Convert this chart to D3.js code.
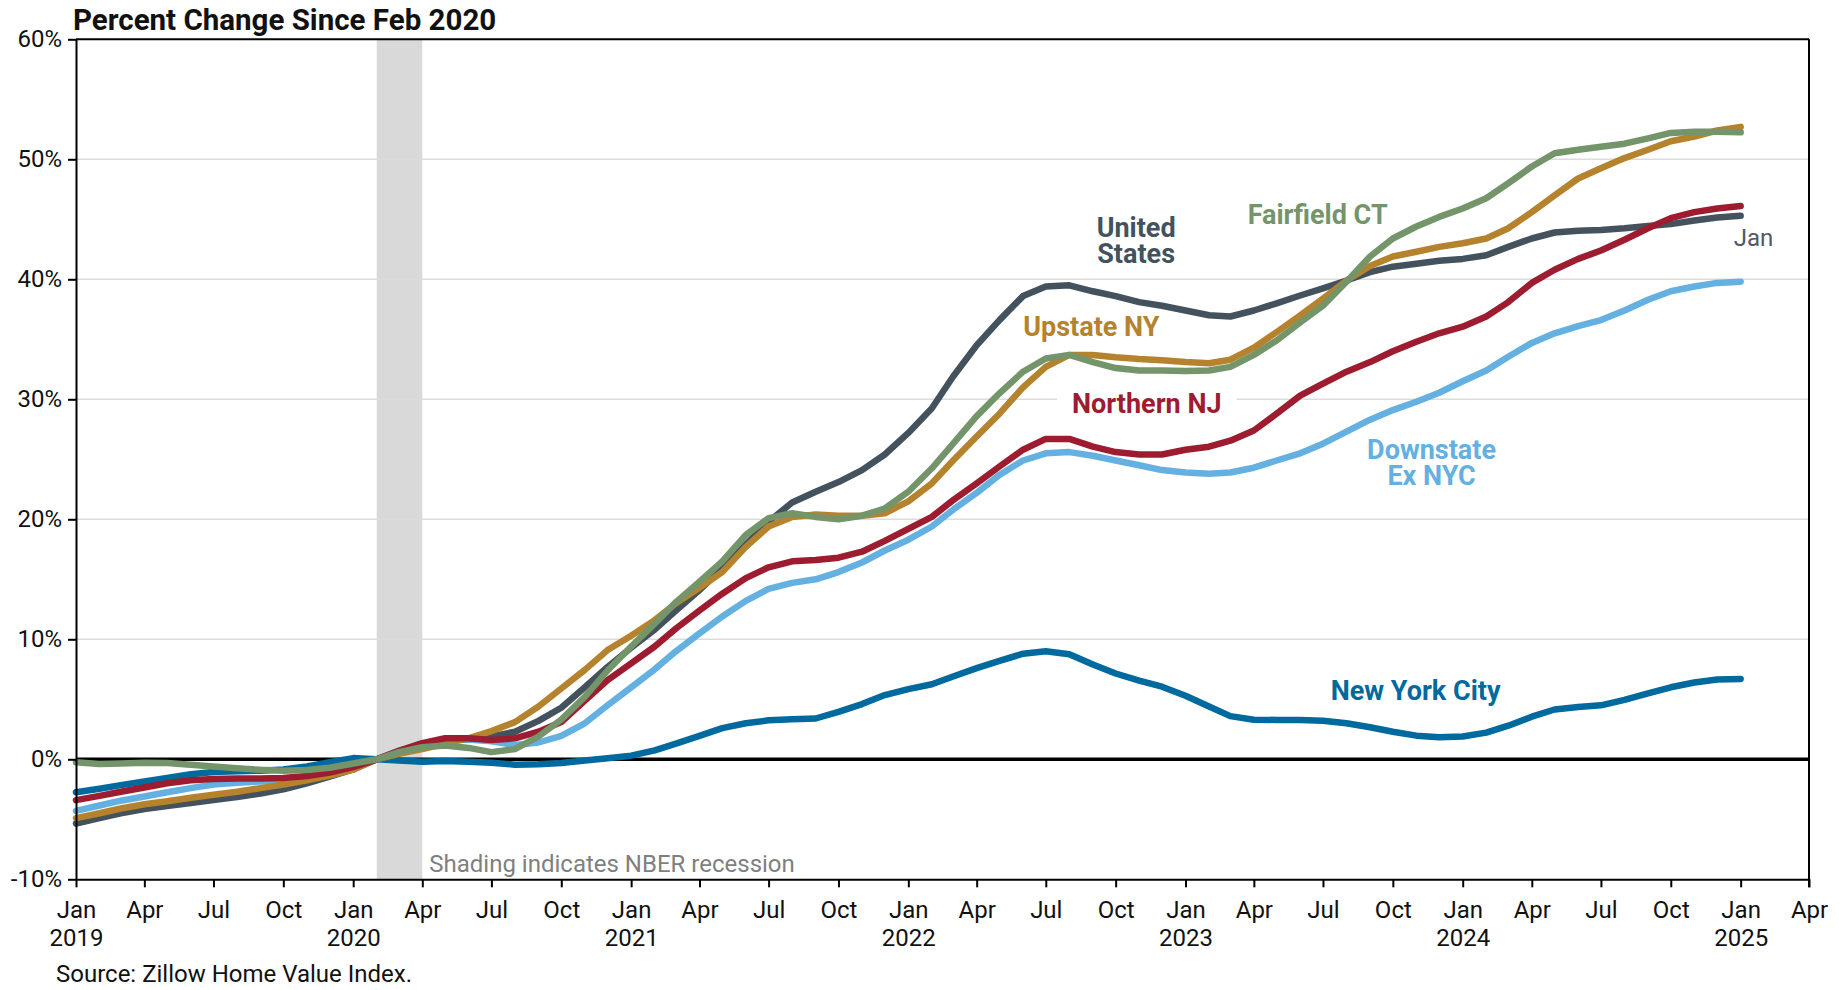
<!DOCTYPE html>
<html>
<head>
<meta charset="utf-8">
<script src="https://cdn.jsdelivr.net/npm/d3@7"></script>
<style>
  html, body { margin: 0; padding: 0; background: #fff; }
  svg { display: block; font-family: Roboto, "Noto Sans", sans-serif; }
</style>
</head>
<body>
<svg id="chart" width="1839" height="990"></svg>
<script>
// ---------------- DATA (percent change since Feb 2020, monthly Jan 2019 – Jan 2025) ----------------
const startMonth = "2019-01";
const endMonth = "2025-01";

const unitedStates = [
  -5.35, -4.9, -4.5, -4.15, -3.9, -3.65, -3.4, -3.15, -2.85, -2.5, -2.0, -1.45, -0.85,
  0, 0.6, 1.05, 1.5, 1.75, 1.9, 2.3, 3.2, 4.3, 6.0, 7.7, 9.3,
  10.8, 12.4, 14.1, 15.9, 17.9, 19.8, 21.4, 22.3, 23.1, 24.1, 25.4, 27.2,
  29.25, 31.9, 34.5, 36.6, 38.6, 39.4, 39.5, 39.0, 38.6, 38.1, 37.8, 37.4,
  37.0, 36.9, 37.4, 38.0, 38.65, 39.25, 39.9, 40.6, 41.05, 41.3, 41.55, 41.7,
  42.0, 42.7, 43.4, 43.9, 44.05, 44.1, 44.25, 44.45, 44.6, 44.9, 45.15, 45.3
];
const upstateNY = [
  -4.9, -4.5, -4.1, -3.75, -3.5, -3.2, -2.95, -2.7, -2.4, -2.1, -1.75, -1.35, -0.85,
  0, 0.45, 0.85, 1.3, 1.75, 2.35, 3.1, 4.4, 5.9, 7.45, 9.1, 10.3,
  11.6, 13.0, 14.3, 15.6, 17.7, 19.4, 20.2, 20.4, 20.3, 20.3, 20.5, 21.5,
  23.0, 24.9, 26.9, 28.8, 31.0, 32.7, 33.7, 33.7, 33.5, 33.35, 33.25, 33.1,
  33.0, 33.3, 34.3, 35.6, 37.0, 38.4, 39.9, 41.1, 41.9, 42.3, 42.7, 43.0,
  43.4, 44.25, 45.6, 47.0, 48.4, 49.25, 50.1, 50.8, 51.5, 51.9, 52.4, 52.7
];
const fairfieldCT = [
  -0.25, -0.4, -0.35, -0.28, -0.3, -0.45, -0.6, -0.75, -0.88, -0.95, -0.9, -0.7, -0.35,
  0, 0.6, 1.0, 1.15, 0.95, 0.6, 0.85, 1.9, 3.3, 5.2, 7.4, 9.4,
  11.3, 13.1, 14.8, 16.5, 18.7, 20.1, 20.5, 20.2, 20.0, 20.3, 20.9, 22.3,
  24.25, 26.3, 28.6, 30.5, 32.3, 33.4, 33.7, 33.1, 32.6, 32.4, 32.4, 32.35,
  32.4, 32.7, 33.7, 34.9, 36.4, 37.8, 39.8, 41.9, 43.4, 44.4, 45.2, 45.9,
  46.75, 48.0, 49.4, 50.5, 50.8, 51.05, 51.3, 51.75, 52.2, 52.3, 52.3, 52.25
];
const northernNJ = [
  -3.4, -3.05, -2.7, -2.35, -2.0, -1.75, -1.65, -1.6, -1.6, -1.55, -1.4, -1.1, -0.65,
  0, 0.7, 1.35, 1.75, 1.75, 1.6, 1.75, 2.3, 3.1, 4.9, 6.6, 8.0,
  9.4, 10.9, 12.4, 13.8, 15.1, 16.0, 16.5, 16.6, 16.8, 17.3, 18.2, 19.2,
  20.2, 21.6, 23.0, 24.4, 25.8, 26.7, 26.7, 26.05, 25.6, 25.4, 25.4, 25.8,
  26.05, 26.55, 27.4, 28.8, 30.3, 31.3, 32.3, 33.1, 34.0, 34.8, 35.5, 36.05,
  36.9, 38.1, 39.7, 40.8, 41.7, 42.4, 43.3, 44.25, 45.1, 45.6, 45.9, 46.1
];
const downstateExNYC = [
  -4.3, -3.85, -3.45, -3.1, -2.75, -2.4, -2.1, -1.95, -1.85, -1.8, -1.55, -1.15, -0.7,
  0, 0.7, 1.25, 1.6, 1.65, 1.5, 1.2, 1.4, 1.95, 3.0, 4.5, 6.0,
  7.5, 9.0, 10.5, 11.9, 13.2, 14.2, 14.7, 15.0, 15.6, 16.4, 17.4, 18.3,
  19.4, 20.8, 22.2, 23.7, 24.9, 25.5, 25.6, 25.3, 24.9, 24.5, 24.1, 23.9,
  23.8, 23.9, 24.3, 24.9, 25.5, 26.3, 27.3, 28.3, 29.1, 29.8, 30.55, 31.5,
  32.4, 33.55, 34.7, 35.5, 36.1, 36.6, 37.4, 38.3, 39.0, 39.4, 39.7, 39.8
];
const newYorkCity = [
  -2.75, -2.45, -2.15, -1.85, -1.55, -1.25, -1.05, -1.0, -0.95, -0.85, -0.6, -0.25, 0.1,
  0.0, -0.1, -0.2, -0.15, -0.2, -0.28, -0.45, -0.42, -0.3, -0.1, 0.08, 0.3,
  0.75, 1.3, 1.95, 2.6, 3.0, 3.25, 3.33, 3.4, 3.95, 4.6, 5.35, 5.85,
  6.25, 6.9, 7.6, 8.2, 8.8, 9.0, 8.75, 7.9, 7.15, 6.55, 6.05, 5.3,
  4.4, 3.6, 3.3, 3.28, 3.28, 3.22, 3.0, 2.67, 2.3, 1.97, 1.83, 1.9,
  2.22, 2.8, 3.55, 4.15, 4.35, 4.5, 4.95, 5.5, 6.0, 6.4, 6.65, 6.7
];

const seriesNames = ["New York City", "Downstate Ex NYC", "United States", "Upstate NY", "Northern NJ", "Fairfield CT"];
const seriesValues = [newYorkCity, downstateExNYC, unitedStates, upstateNY, northernNJ, fairfieldCT];

const yTickValues = [-10, 0, 10, 20, 30, 40, 50, 60];
const recession = ["2020-02", "2020-04"];
const axisStart = "2019-01";
const axisEnd = "2025-04";

const titleText = "Percent Change Since Feb 2020";
const sourceText = "Source: Zillow Home Value Index.";
const shadingText = "Shading indicates NBER recession";
const endLabelText = "Jan";

// ---------------- STYLE / LAYOUT ----------------
const colors = {
  "United States": "#44525e",
  "Upstate NY": "#b5832e",
  "Fairfield CT": "#74946a",
  "Northern NJ": "#9d1c2f",
  "Downstate Ex NYC": "#64b0e0",
  "New York City": "#006a9e"
};
// label placement: text lines, centre date on the x scale, baseline in % units
const labelLayout = {
  "United States":    { lines: ["United", "States"], date: "2022-10-28", y: 43.5, bg: false },
  "Fairfield CT":     { lines: ["Fairfield CT"], date: "2023-06-24", y: 44.6, bg: false },
  "Upstate NY":       { lines: ["Upstate NY"], date: "2022-08-30", y: 35.3, bg: false },
  "Northern NJ":      { lines: ["Northern NJ"], date: "2022-11-11", y: 28.9, bg: true },
  "Downstate Ex NYC": { lines: ["Downstate", "Ex NYC"], date: "2023-11-21", y: 25.0, bg: false },
  "New York City":    { lines: ["New York City"], date: "2023-10-31", y: 4.94, bg: false }
};

const W = 1839, H = 990;
const M = { left: 76, right: 1809, top: 39.3, bottom: 879.3 };

const parse = d3.utcParse("%Y-%m");
const parseDay = d3.utcParse("%Y-%m-%d");
const dates = d3.utcMonth.range(parse(startMonth), d3.utcMonth.offset(parse(endMonth), 1));

const x = d3.scaleUtc().domain([parse(axisStart), parse(axisEnd)]).range([M.left, M.right]);
const y = d3.scaleLinear().domain([-10, 60]).range([M.bottom, M.top]);

const svg = d3.select("#chart");
svg.append("rect").attr("width", W).attr("height", H).attr("fill", "#fff");

// recession shading
svg.append("rect")
  .attr("x", x(parse(recession[0])))
  .attr("y", M.top)
  .attr("width", x(parse(recession[1])) - x(parse(recession[0])))
  .attr("height", M.bottom - M.top)
  .attr("fill", "#d9d9d9");

// gridlines
svg.append("g").selectAll("line")
  .data(yTickValues.filter(v => v > 0 && v < 60))
  .join("line")
  .attr("x1", M.left).attr("x2", M.right)
  .attr("y1", d => y(d)).attr("y2", d => y(d))
  .attr("stroke", "#dcdcdc").attr("stroke-width", 1.5);

// label backgrounds layer (hides gridlines only)
const bgLayer = svg.append("g");

// zero line
svg.append("line")
  .attr("x1", M.left).attr("x2", M.right)
  .attr("y1", y(0)).attr("y2", y(0))
  .attr("stroke", "#000").attr("stroke-width", 3.5);

// series lines
const line = d3.line().x((d, i) => x(dates[i])).y(d => y(d));
svg.append("g").selectAll("path")
  .data(seriesNames.map((n, k) => ({ name: n, values: seriesValues[k] })))
  .join("path")
  .attr("d", d => line(d.values))
  .attr("fill", "none")
  .attr("stroke", d => colors[d.name])
  .attr("stroke-width", 6.5)
  .attr("stroke-linecap", "round")
  .attr("stroke-linejoin", "round");

// axes
const yAxis = d3.axisLeft(y).tickValues(yTickValues).tickFormat(d => d + "%")
  .tickSize(8).tickPadding(6).tickSizeOuter(0);
const gy = svg.append("g").attr("transform", `translate(${M.left},0)`).call(yAxis);
gy.select(".domain").attr("stroke", "#000").attr("stroke-width", 2);
gy.selectAll(".tick line").attr("stroke", "#000").attr("stroke-width", 2);
gy.selectAll(".tick text").attr("font-size", 24).attr("fill", "#111")
  .attr("font-family", "Roboto");

const xTicks = d3.utcMonth.every(3).range(parse(axisStart), d3.utcMonth.offset(parse(axisEnd), 1));
const xAxis = d3.axisBottom(x).tickValues(xTicks).tickSize(8).tickSizeOuter(0).tickFormat("");
const gx = svg.append("g").attr("transform", `translate(0,${M.bottom})`).call(xAxis);
gx.select(".domain").attr("stroke", "#000").attr("stroke-width", 2);
gx.selectAll(".tick line").attr("stroke", "#000").attr("stroke-width", 2);
gx.selectAll(".tick text").each(function(d) {
  const t = d3.select(this);
  t.text(null).attr("y", 39).attr("dy", 0).attr("font-size", 24).attr("fill", "#111")
    .attr("font-family", "Roboto");
  t.append("tspan").attr("x", 0).text(d3.utcFormat("%b")(d));
  if (d.getUTCMonth() === 0) {
    t.append("tspan").attr("x", 0).attr("dy", 28).text(d3.utcFormat("%Y")(d));
  }
});

// top and right frame
svg.append("line").attr("x1", M.left).attr("x2", M.right).attr("y1", M.top).attr("y2", M.top)
  .attr("stroke", "#000").attr("stroke-width", 2);
svg.append("line").attr("x1", M.right).attr("x2", M.right).attr("y1", M.top).attr("y2", M.bottom + 8)
  .attr("stroke", "#000").attr("stroke-width", 2);

// series labels
const labelG = svg.append("g");
seriesNames.forEach(name => {
  const L = labelLayout[name];
  const cx = x(parseDay(L.date));
  const t = labelG.append("text")
    .attr("x", cx).attr("y", y(L.y))
    .attr("text-anchor", "middle")
    .attr("font-size", 27).attr("font-weight", 700)
    .attr("font-family", "Roboto")
    .attr("fill", colors[name]);
  L.lines.forEach((s, i) => {
    t.append("tspan").attr("x", cx).attr("dy", i === 0 ? 0 : 26).text(s);
  });
  if (L.bg) {
    const b = t.node().getBBox();
    bgLayer.append("rect")
      .attr("x", b.x - 15).attr("y", b.y)
      .attr("width", b.width + 30).attr("height", b.height)
      .attr("fill", "#fff");
  }
});

// end label
svg.append("text")
  .attr("x", x(dates[dates.length - 1]) - 7)
  .attr("y", y(unitedStates[unitedStates.length - 1]) + 30)
  .attr("font-size", 24).attr("font-family", "Roboto")
  .attr("fill", "#4d5a66")
  .text(endLabelText);

// shading note
svg.append("text")
  .attr("x", x(parse(recession[1])) + 7)
  .attr("y", M.bottom - 7)
  .attr("font-size", 24).attr("font-family", "Roboto")
  .attr("fill", "#7f7f7f")
  .text(shadingText);

// title
svg.append("text")
  .attr("x", 73).attr("y", 30)
  .attr("font-size", 29.5).attr("font-weight", 700).attr("font-family", "Roboto")
  .attr("fill", "#111")
  .text(titleText);

// source
svg.append("text")
  .attr("x", 56).attr("y", 982)
  .attr("font-size", 24).attr("font-family", "Roboto")
  .attr("fill", "#111")
  .text(sourceText);
</script>
</body>
</html>
